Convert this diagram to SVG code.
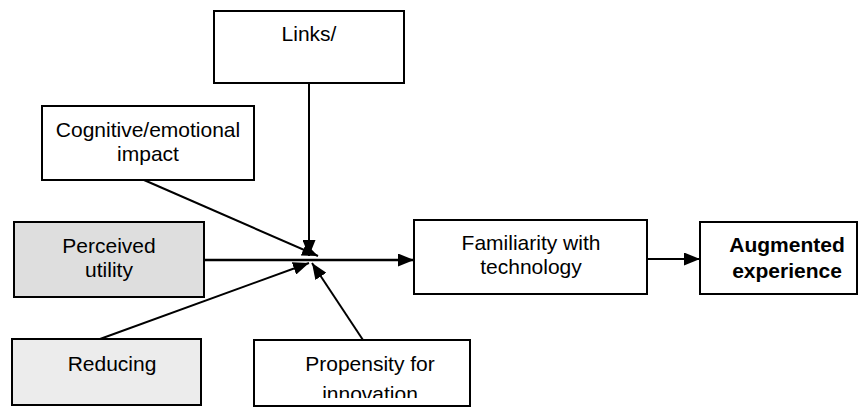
<svg xmlns="http://www.w3.org/2000/svg" width="859" height="407" viewBox="0 0 859 407">
<defs>
<style>
.box{fill:#fff;stroke:#000;stroke-width:2}
.t{font-family:"Liberation Sans",Arial,sans-serif;font-size:21px;fill:#000;text-anchor:middle}
.b{font-weight:bold}
.c{stroke:#000;stroke-width:2;fill:none;marker-end:url(#ah)}
</style>
<marker id="ah" viewBox="0 0 16 13" refX="16" refY="6.5" markerWidth="16" markerHeight="13" markerUnits="userSpaceOnUse" orient="auto">
<path d="M0,0 L16,6.5 L0,13 z" fill="#000"/>
</marker>
<clipPath id="clipP"><rect x="254" y="340" width="220" height="58"/></clipPath>
</defs>
<rect width="859" height="407" fill="#fff"/>
<g id="links">
<rect class="box" x="214" y="11" width="190" height="72"/>
<text class="t" x="309" y="41">Links/</text>
</g>
<g id="cognitive">
<rect class="box" x="42" y="106" width="212" height="74"/>
<text class="t" x="148" y="137">Cognitive/emotional</text>
<text class="t" x="148" y="161">impact</text>
</g>
<g id="perceived">
<rect class="box" x="14" y="222" width="190" height="75" style="fill:#dedede"/>
<text class="t" x="109" y="253">Perceived</text>
<text class="t" x="109" y="277">utility</text>
</g>
<g id="reducing">
<rect class="box" x="12" y="339" width="189" height="66" style="fill:#ececec"/>
<text class="t" x="112" y="371">Reducing</text>
</g>
<g id="propensity">
<rect class="box" x="254" y="340" width="216" height="66"/>
<g clip-path="url(#clipP)">
<text class="t" x="370" y="371">Propensity for</text>
<text class="t" x="370" y="401">innovation</text>
</g>
</g>
<g id="familiarity">
<rect class="box" x="414" y="220" width="233" height="74"/>
<text class="t" x="531" y="250">Familiarity with</text>
<text class="t" x="531" y="274">technology</text>
</g>
<g id="augmented">
<rect class="box" x="700" y="222" width="157" height="72"/>
<text class="t b" x="787" y="252">Augmented</text>
<text class="t b" x="787" y="278">experience</text>
</g>
<g id="connectors">
<line class="c" x1="309" y1="83" x2="309" y2="256"/>
<line class="c" x1="144" y1="180" x2="318" y2="256"/>
<line class="c" x1="204" y1="260" x2="414" y2="260" style="stroke-width:2.5"/>
<line class="c" x1="100" y1="339" x2="309" y2="263"/>
<line class="c" x1="363" y1="340" x2="312" y2="263"/>
<line class="c" x1="647" y1="259" x2="700" y2="259"/>
</g>
</svg>
